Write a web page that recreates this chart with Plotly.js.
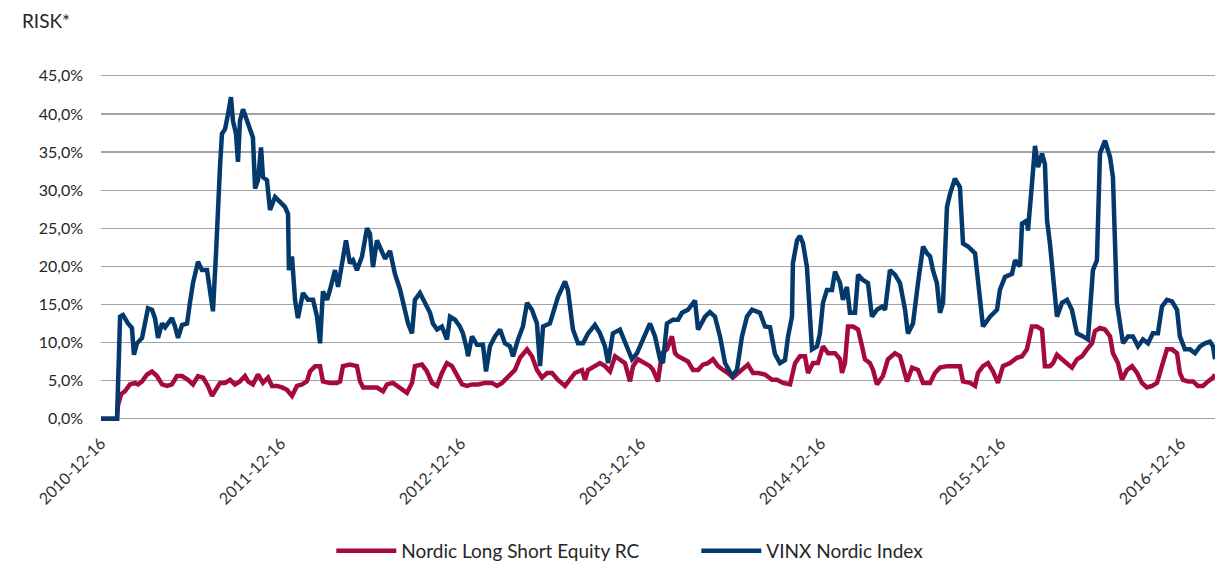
<!DOCTYPE html>
<html>
<head>
<meta charset="utf-8">
<script src="https://cdn.plot.ly/plotly-3.0.1.min.js"></script>
<style>html,body{margin:0;padding:0;background:#fff}#chart{width:1218px;height:571px}</style>
</head>
<body>
<div id="chart"></div>
<script>
// x values are decimal years (2010-12-16 = 2010.956)
var tickYears = [2010.956, 2011.956, 2012.956, 2013.956, 2014.956, 2015.956, 2016.956];
var tickLabels = ['2010-12-16', '2011-12-16', '2012-12-16', '2013-12-16', '2014-12-16', '2015-12-16', '2016-12-16'];
var riskTicks = [0, 5, 10, 15, 20, 25, 30, 35, 40, 45];
var riskTickLabels = ['0,0%', '5,0%', '10,0%', '15,0%', '20,0%', '25,0%', '30,0%', '35,0%', '40,0%', '45,0%'];

var seriesNames = ['Nordic Long Short Equity RC', 'VINX Nordic Index'];

var vinxYears = [
2010.956,2011.045,2011.062,2011.078,2011.106,2011.128,2011.139,2011.156,2011.184,2011.200,
2011.217,2011.239,2011.256,2011.273,2011.295,2011.312,2011.350,2011.367,2011.384,2011.406,
2011.434,2011.450,2011.467,2011.495,2011.517,2011.545,2011.562,2011.578,2011.595,2011.606,
2011.617,2011.628,2011.645,2011.662,2011.678,2011.689,2011.706,2011.717,2011.728,2011.745,
2011.767,2011.784,2011.800,2011.812,2011.828,2011.845,2011.856,2011.878,2011.895,2011.923,
2011.950,2011.978,2011.995,2012.000,2012.017,2012.034,2012.050,2012.078,2012.106,2012.134,
2012.156,2012.173,2012.189,2012.212,2012.228,2012.256,2012.273,2012.295,2012.317,2012.339,
2012.356,2012.378,2012.406,2012.434,2012.450,2012.467,2012.489,2012.506,2012.534,2012.562,
2012.589,2012.617,2012.645,2012.662,2012.684,2012.700,2012.728,2012.756,2012.784,2012.800,
2012.823,2012.850,2012.878,2012.895,2012.923,2012.950,2012.967,2012.989,2012.995,2013.017,
2013.045,2013.078,2013.095,2013.117,2013.145,2013.173,2013.200,2013.228,2013.245,2013.273,
2013.300,2013.323,2013.350,2013.378,2013.395,2013.412,2013.450,2013.495,2013.534,2013.550,
2013.578,2013.606,2013.634,2013.662,2013.700,2013.728,2013.756,2013.773,2013.800,2013.839,
2013.867,2013.906,2013.934,2013.978,2014.006,2014.034,2014.062,2014.078,2014.100,2014.134,
2014.162,2014.184,2014.217,2014.256,2014.273,2014.312,2014.339,2014.367,2014.395,2014.423,
2014.462,2014.489,2014.517,2014.545,2014.573,2014.617,2014.645,2014.673,2014.700,2014.728,
2014.756,2014.773,2014.795,2014.800,2014.823,2014.839,2014.856,2014.878,2014.895,2014.906,
2014.934,2014.950,2014.967,2014.989,2015.017,2015.034,2015.062,2015.078,2015.100,2015.117,
2015.145,2015.162,2015.189,2015.217,2015.239,2015.267,2015.295,2015.312,2015.339,2015.367,
2015.395,2015.423,2015.439,2015.467,2015.495,2015.523,2015.545,2015.562,2015.578,2015.600,
2015.617,2015.634,2015.656,2015.673,2015.700,2015.728,2015.745,2015.773,2015.812,2015.839,
2015.856,2015.895,2015.934,2015.950,2015.978,2016.017,2016.034,2016.062,2016.073,2016.100,
2016.106,2016.128,2016.145,2016.162,2016.184,2016.200,2016.212,2016.228,2016.245,2016.267,
2016.295,2016.323,2016.350,2016.378,2016.412,2016.439,2016.467,2016.489,2016.506,2016.534,
2016.562,2016.578,2016.600,2016.617,2016.634,2016.662,2016.689,2016.717,2016.745,2016.773,
2016.800,2016.828,2016.850,2016.878,2016.906,2016.934,2016.950,2016.978,2017.006,2017.034,
2017.062,2017.089,2017.117,2017.134,2017.145];

var vinxRisk = [
0,0,13.4,13.6,12.5,11.9,8.4,9.9,10.6,12.5,
14.5,14.3,13.2,10.6,12.5,12.0,13.2,12.1,10.6,12.3,
12.5,15.2,17.8,20.6,19.5,19.5,16.5,14.1,21.7,28.2,
33.0,37.4,38.0,40.0,42.2,39.1,37.4,33.7,39.1,40.6,
39.1,37.8,36.9,30.2,31.3,35.6,31.7,31.3,27.4,29.1,
28.5,27.8,26.9,19.5,21.3,15.6,13.2,16.5,15.6,15.6,
13.4,9.9,16.7,15.6,16.9,19.5,17.3,20.4,23.4,20.4,
20.8,19.5,21.3,25.0,24.3,19.9,23.4,22.5,21.0,22.0,
19.0,17.0,14.3,12.5,11.2,15.6,16.5,15.2,13.9,12.5,
11.7,12.1,10.4,13.4,13.0,12.1,11.2,9.1,8.2,10.8,
9.7,9.7,6.2,9.5,10.8,11.7,9.9,9.5,8.2,10.4,
12.1,15.2,14.3,12.5,6.9,12.1,12.5,16.0,18.0,16.9,
11.7,9.9,9.9,11.2,12.3,11.2,9.5,7.3,11.2,11.7,
9.9,7.8,8.6,10.8,12.5,10.8,7.8,7.3,12.5,13.0,
13.0,13.9,14.3,15.5,11.7,13.4,14.0,13.4,10.8,7.3,
5.6,6.4,10.8,13.4,14.3,13.9,12.1,12.0,8.5,7.3,
7.7,10.8,13.4,20.4,23.4,24.0,23.0,19.9,13.9,9.1,
9.5,11.2,15.2,16.9,16.9,19.3,17.8,15.6,17.3,13.9,
13.9,18.9,18.2,17.8,13.4,14.3,14.7,14.3,19.5,18.9,
17.8,14.3,11.2,12.5,17.8,22.6,21.7,21.3,19.5,17.8,
13.9,15.2,27.8,29.5,31.5,30.4,23.0,22.6,21.7,15.2,
12.1,13.4,14.3,16.9,18.6,19.0,20.8,20.0,25.6,26.0,
24.7,30.8,35.8,33.0,34.8,33.4,26.0,23.0,18.6,13.4,
15.2,15.6,14.3,11.2,10.8,10.4,19.5,20.8,34.8,36.5,
34.3,31.7,15.2,12.5,9.9,10.8,10.8,9.5,10.4,9.9,
11.2,11.2,14.7,15.6,15.4,14.3,10.8,9.1,9.1,8.6,
9.5,9.9,10.1,9.5,7.8];

var lseYears = [
2010.956,2011.045,2011.050,2011.067,2011.089,2011.117,2011.145,2011.162,2011.184,2011.212,
2011.239,2011.267,2011.295,2011.323,2011.350,2011.378,2011.406,2011.439,2011.467,2011.495,
2011.523,2011.550,2011.573,2011.589,2011.617,2011.645,2011.673,2011.700,2011.728,2011.756,
2011.773,2011.800,2011.828,2011.856,2011.884,2011.906,2011.934,2011.962,2011.989,2012.017,
2012.045,2012.073,2012.100,2012.117,2012.145,2012.173,2012.189,2012.228,2012.267,2012.284,
2012.300,2012.339,2012.378,2012.395,2012.412,2012.450,2012.489,2012.523,2012.545,2012.578,
2012.617,2012.656,2012.684,2012.700,2012.739,2012.767,2012.795,2012.823,2012.850,2012.878,
2012.906,2012.934,2012.962,2012.989,2013.017,2013.050,2013.089,2013.128,2013.156,2013.184,
2013.217,2013.256,2013.284,2013.323,2013.350,2013.378,2013.406,2013.434,2013.462,2013.495,
2013.534,2013.562,2013.589,2013.628,2013.645,2013.662,2013.700,2013.728,2013.756,2013.784,
2013.812,2013.839,2013.867,2013.895,2013.912,2013.939,2013.978,2014.006,2014.023,2014.050,
2014.073,2014.100,2014.128,2014.145,2014.162,2014.189,2014.217,2014.245,2014.273,2014.300,
2014.328,2014.356,2014.384,2014.412,2014.439,2014.467,2014.495,2014.523,2014.550,2014.578,
2014.606,2014.645,2014.684,2014.712,2014.745,2014.784,2014.812,2014.839,2014.867,2014.884,
2014.912,2014.939,2014.967,2014.995,2015.034,2015.062,2015.073,2015.089,2015.106,2015.134,
2015.162,2015.184,2015.200,2015.228,2015.245,2015.267,2015.300,2015.328,2015.367,2015.395,
2015.412,2015.434,2015.462,2015.495,2015.523,2015.562,2015.589,2015.617,2015.656,2015.689,
2015.728,2015.745,2015.784,2015.812,2015.828,2015.856,2015.884,2015.912,2015.939,2015.967,
2016.006,2016.045,2016.073,2016.100,2016.128,2016.156,2016.184,2016.200,2016.228,2016.245,
2016.267,2016.295,2016.323,2016.350,2016.378,2016.406,2016.434,2016.462,2016.478,2016.506,
2016.534,2016.562,2016.578,2016.606,2016.628,2016.656,2016.684,2016.712,2016.739,2016.767,
2016.795,2016.823,2016.850,2016.878,2016.906,2016.934,2016.950,2016.967,2016.995,2017.023,
2017.050,2017.078,2017.106,2017.134,2017.145];

var lseRisk = [
0,0,1.7,3.2,3.6,4.5,4.7,4.5,4.9,5.8,
6.2,5.6,4.5,4.3,4.5,5.6,5.6,5.1,4.5,5.6,
5.4,4.3,3.0,3.6,4.7,4.7,5.1,4.5,4.9,5.6,
4.9,4.5,5.8,4.7,5.4,4.3,4.3,4.1,3.8,3.0,
4.3,4.5,4.9,6.2,6.9,6.9,4.9,4.7,4.7,4.9,
6.9,7.1,6.9,4.9,4.1,4.1,4.1,3.6,4.5,4.7,
4.1,3.4,4.7,6.9,7.1,6.2,4.7,4.3,6.0,7.3,
6.9,5.6,4.5,4.3,4.5,4.5,4.7,4.7,4.3,4.7,
5.4,6.4,8.0,9.1,8.2,6.4,5.4,6.0,6.0,5.1,
4.3,5.1,6.0,6.4,5.1,6.4,6.9,7.3,6.9,6.2,
8.2,7.8,7.3,4.9,6.9,7.8,7.3,6.9,6.4,4.9,
8.6,9.1,10.8,8.6,8.2,7.8,7.5,6.4,6.4,7.1,
7.3,7.8,6.9,6.4,6.0,5.4,6.0,6.7,7.1,6.0,
6.0,5.8,5.1,5.1,4.7,4.5,7.3,8.2,8.2,6.0,
7.3,7.3,9.5,8.6,8.6,7.8,6.0,7.3,12.1,12.1,
11.7,9.5,7.8,7.3,6.4,4.5,5.6,7.8,8.6,8.2,
6.7,4.9,6.7,6.4,4.7,4.7,6.0,6.7,6.9,6.9,
6.9,4.9,4.7,4.3,6.0,6.9,7.3,6.2,4.7,6.9,
7.3,8.0,8.2,9.1,12.1,12.1,11.7,6.9,6.9,7.3,
8.4,7.8,7.3,6.7,7.8,8.2,9.1,9.9,11.5,11.9,
11.7,10.8,8.6,7.3,5.1,6.4,6.9,6.0,4.7,4.1,
4.3,4.7,6.9,9.1,9.1,8.6,6.0,5.1,4.9,4.9,
4.3,4.3,4.9,5.4,5.8];

var RED = '#a6093d';
var BLUE = '#033a6b';

var traces = [
  {x: lseYears, y: lseRisk, name: seriesNames[0], type: 'scatter', mode: 'lines',
   line: {color: RED, width: 4.5}, hoverinfo: 'skip'},
  {x: vinxYears, y: vinxRisk, name: seriesNames[1], type: 'scatter', mode: 'lines',
   line: {color: BLUE, width: 4.5}, hoverinfo: 'skip'}
];

var layout = {
  width: 1218, height: 571,
  margin: {l: 101, r: 3, t: 72, b: 150, pad: 0},
  paper_bgcolor: '#ffffff', plot_bgcolor: '#ffffff',
  font: {family: 'Lato, "Open Sans", sans-serif', size: 16, color: '#262626'},
  title: {text: 'RISK*', xref: 'container', x: 0.018, xanchor: 'left',
          yref: 'container', y: 0.962, yanchor: 'middle',
          font: {family: 'Lato, sans-serif', size: 19, color: '#262626'}},
  xaxis: {type: 'linear', range: [2010.956, 2017.145], tickmode: 'array',
          tickvals: tickYears, ticktext: tickLabels, tickangle: -45,
          showgrid: false, zeroline: false, showline: false, ticks: '',
          ticklabelstandoff: 9,
          tickfont: {size: 16, color: '#333'}, fixedrange: true},
  yaxis: {range: [-0.3, 45.5], tickmode: 'array', tickvals: riskTicks, ticktext: riskTickLabels,
          showgrid: true, gridcolor: '#a3a3a3', gridwidth: 1.2, zeroline: false, showline: false,
          ticks: '', ticklabelstandoff: 17, tickfont: {size: 16, color: '#262626'}, fixedrange: true},
  showlegend: true,
  legend: {orientation: 'h', xref: 'container', x: 0.272, xanchor: 'left',
           yref: 'container', y: 0.035, yanchor: 'middle',
           itemwidth: 60,
           entrywidth: 290, entrywidthmode: 'pixels', traceorder: 'normal',
           font: {size: 19, color: '#262626'}, bgcolor: 'rgba(0,0,0,0)'}
};

Plotly.newPlot('chart', traces, layout, {staticPlot: true, displayModeBar: false});
</script>
</body>
</html>
